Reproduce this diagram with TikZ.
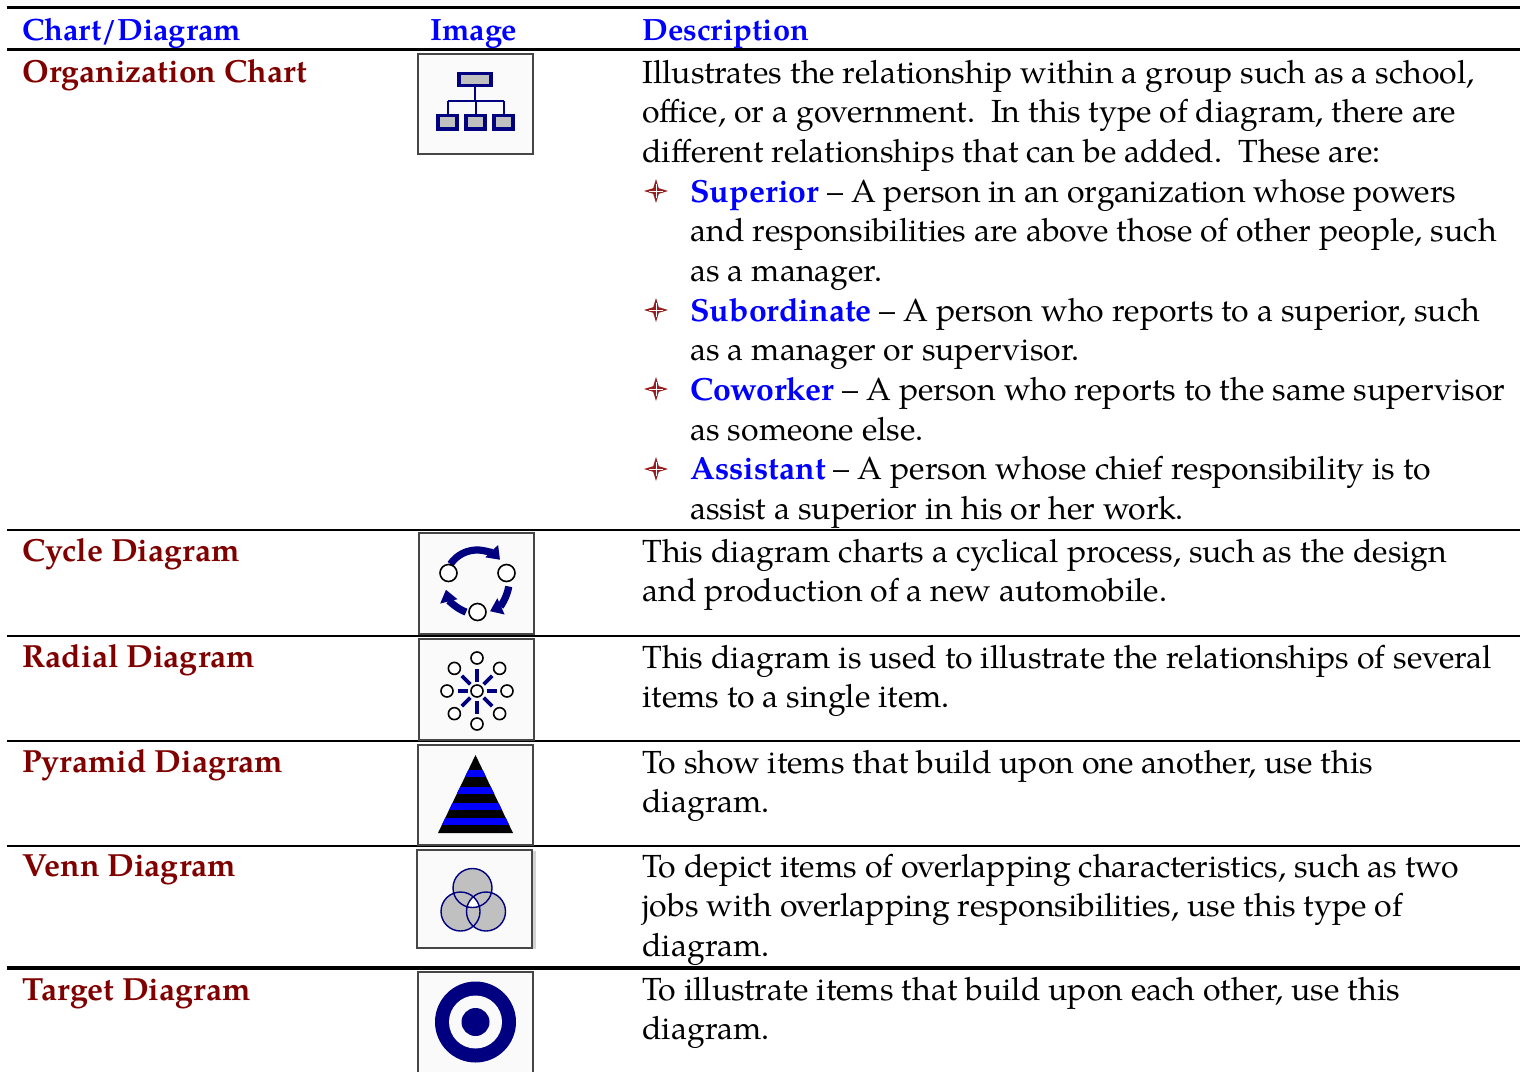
\documentclass[tikz,border=0pt]{standalone}
\usepackage{fontspec}
\setmainfont{TeX Gyre Pagella}
\usetikzlibrary{arrows.meta}
\definecolor{hblue}{RGB}{0,0,255}
\definecolor{dred}{RGB}{128,0,0}
\definecolor{navy}{RGB}{0,0,128}
\definecolor{boxgray}{RGB}{70,70,70}
\definecolor{icongray}{RGB}{192,192,192}
\definecolor{boxbg}{RGB}{250,250,250}
\definecolor{starred}{RGB}{150,30,30}
\tikzset{
  txt/.style={anchor=base west, inner sep=0pt, font=\fontsize{16}{18}\selectfont},
  hdr/.style={txt, text=hblue, font=\fontsize{15.4}{18}\selectfont\bfseries},
  rowname/.style={txt, text=dred, font=\fontsize{16}{18}\selectfont\bfseries},
  rulethick/.style={line width=1.5pt, black},
  rulethin/.style={line width=1pt, black},
  rulefat/.style={line width=2pt, black},
  iconbox/.style={draw=boxgray, line width=1pt, fill=boxbg},
  orgrect/.style={draw=navy, line width=1.7pt, fill=icongray},
  orgline/.style={draw=navy, line width=1pt},
  cyc/.style={draw=navy, line width=3.6pt, -{Triangle[width=8.5pt,length=6pt]}},
  dot/.style={draw=black, line width=0.8pt, fill=white},
  spoke/.style={draw=navy, line width=1.8pt},
  vennc/.style={draw=navy, line width=0.7pt},
  fourstar/.pic={
    \fill[starred] (0,-12) -- (2.8,-2.8) -- (12,0) -- (2.8,2.8) -- (0,12) -- (-2.8,2.8) -- (-12,0) -- (-2.8,-2.8) -- cycle;
    \draw[white, line width=0.4pt] (0,-7) -- (0,7) (-7,0) -- (7,0);
  }
}
\begin{document}
\begin{tikzpicture}[x=0.5pt,y=-0.5pt]
\useasboundingbox (0,0) rectangle (1525,1071);
\fill[white] (0,0) rectangle (1525,1071);

% rules
\draw[rulethick] (7,7) -- (1520,7);
\draw[rulethick] (7,49.5) -- (1520,49.5);
\draw[rulethin] (7,530) -- (1520,530);
\draw[rulethin] (7,636) -- (1520,636);
\draw[rulethin] (7,741) -- (1520,741);
\draw[rulethin] (7,846) -- (1520,846);
\draw[rulefat] (7,968) -- (1520,968);

% header
\node[hdr] (h1) at (22,40) {Chart/Diagram};
\node[hdr] (h2) at (430,40) {Image};
\node[hdr] (h3) at (642,40) {Description};

% row names
\node[rowname] (r1) at (22,82) {Organization Chart};
\node[rowname] (r2) at (22,561) {Cycle Diagram};
\node[rowname] (r3) at (22,667) {Radial Diagram};
\node[rowname] (r4) at (22,772) {Pyramid Diagram};
\node[rowname] (r5) at (22,876) {Venn Diagram};
\node[rowname] (r6) at (22,1000) {Target Diagram};

% organization chart description
\node[txt] (o1) at (642,83) {Illustrates the relationship within a group such as a school,};
\node[txt] (o2) at (642,122.5) {office, or a government.\ \ In this type of diagram, there are};
\node[txt] (o3) at (642,162) {different relationships that can be added.\ \ These are:};
\pic at (656,191) {fourstar};
\node[txt] (o4) at (690,202) {\textcolor{hblue}{\bfseries Superior} – A person in an organization whose powers};
\node[txt] (o5) at (690,241.5) {and responsibilities are above those of other people, such};
\node[txt] (o6) at (690,281) {as a manager.};
\pic at (656,310) {fourstar};
\node[txt] (o7) at (690,321) {\textcolor{hblue}{\bfseries Subordinate} – A person who reports to a superior, such};
\node[txt] (o8) at (690,360.5) {as a manager or supervisor.};
\pic at (656,389) {fourstar};
\node[txt] (o9) at (690,400) {\textcolor{hblue}{\bfseries Coworker} – A person who reports to the same supervisor};
\node[txt] (o10) at (690,440) {as someone else.};
\pic at (656,469) {fourstar};
\node[txt] (o11) at (690,479.5) {\textcolor{hblue}{\bfseries Assistant} – A person whose chief responsibility is to};
\node[txt] (o12) at (690,519) {assist a superior in his or her work.};

% other descriptions
\node[txt] (c1) at (642,562) {This diagram charts a cyclical process, such as the design};
\node[txt] (c2) at (642,601.5) {and production of a new automobile.};
\node[txt] (a1) at (642,668) {This diagram is used to illustrate the relationships of several};
\node[txt] (a2) at (642,707.5) {items to a single item.};
\node[txt] (p1) at (642,773) {To show items that build upon one another, use this};
\node[txt] (p2) at (642,812.5) {diagram.};
\node[txt] (v1) at (642,877) {To depict items of overlapping characteristics, such as two};
\node[txt] (v2) at (642,916.5) {jobs with overlapping responsibilities, use this type of};
\node[txt] (v3) at (642,956) {diagram.};
\node[txt] (t1) at (642,1000) {To illustrate items that build upon each other, use this};
\node[txt] (t2) at (642,1039.5) {diagram.};

% ---- icon: organization chart
\path[iconbox] (418,54) rectangle (533,154);
\draw[orgline] (475,85) -- (475,101) (447.5,101) -- (503.5,101)
  (447.5,101) -- (447.5,115) (475.5,101) -- (475.5,115) (503.5,101) -- (503.5,115);
\path[orgrect] (459,73.5) rectangle (491,85.5);
\path[orgrect] (438,115.5) rectangle (457,129);
\path[orgrect] (466,115.5) rectangle (485,129);
\path[orgrect] (494,115.5) rectangle (513,129);

% ---- icon: cycle
\path[iconbox] (419,533) rectangle (534,634);
\coordinate (cc) at (477,582);
\draw[cyc] ([shift={(214:32)}]cc) arc[start angle=214, end angle=316, radius=32];
\draw[cyc] ([shift={(8:32)}]cc) arc[start angle=8, end angle=66, radius=32];
\draw[cyc] ([shift={(110:32)}]cc) arc[start angle=110, end angle=166, radius=32];
\path[dot] (448.5,573) circle[radius=8.5];
\path[dot] (506.5,573) circle[radius=8.5];
\path[dot] (477.5,612) circle[radius=8.5];

% ---- icon: radial
\path[iconbox] (419,639) rectangle (534,740);
\coordinate (rc) at (477,691);
\foreach \a/\r in {0/30,45/32,90/33,135/32,180/30,225/32,270/33,315/32}{
  \draw[spoke] ([shift={(\a:9.5)}]rc) -- ([shift={(\a:\r-10.5)}]rc);
  \path[dot] ([shift={(\a:\r)}]rc) circle[radius=6];
}
\path[dot] (rc) circle[radius=6];

% ---- icon: pyramid
\path[iconbox] (418,745) rectangle (533,845);
\begin{scope}
  \clip (475.5,755) -- (513,833) -- (438,833) -- cycle;
  \fill[black] (430,750) rectangle (520,835);
  \foreach \ya/\yb in {770/776.5,787/793.5,803/809.5,818/825}{
    \fill[hblue] (430,\ya) rectangle (520,\yb);
  }
\end{scope}

% ---- icon: venn
\fill[icongray!70] (532,851) rectangle (536,949);
\path[iconbox] (417,850) rectangle (532,948);
\coordinate (vt) at (472.5,888);
\coordinate (vl) at (460.5,911.5);
\coordinate (vr) at (486,911.5);
\fill[icongray] (vt) circle[radius=19.5] (vl) circle[radius=19.5] (vr) circle[radius=19.5];
\begin{scope}
  \clip (vt) circle[radius=19.5];
  \clip (vl) circle[radius=19.5];
  \fill[white] (vr) circle[radius=19.5];
\end{scope}
\draw[vennc] (vt) circle[radius=19.5] (vl) circle[radius=19.5] (vr) circle[radius=19.5];

% ---- icon: target
\path[iconbox] (418,972) rectangle (533,1078);
\fill[navy] (475.5,1022) circle[radius=40.5];
\fill[boxbg] (475.5,1022) circle[radius=26.5];
\fill[navy] (475.5,1022) circle[radius=14];
\end{tikzpicture}
\end{document}
